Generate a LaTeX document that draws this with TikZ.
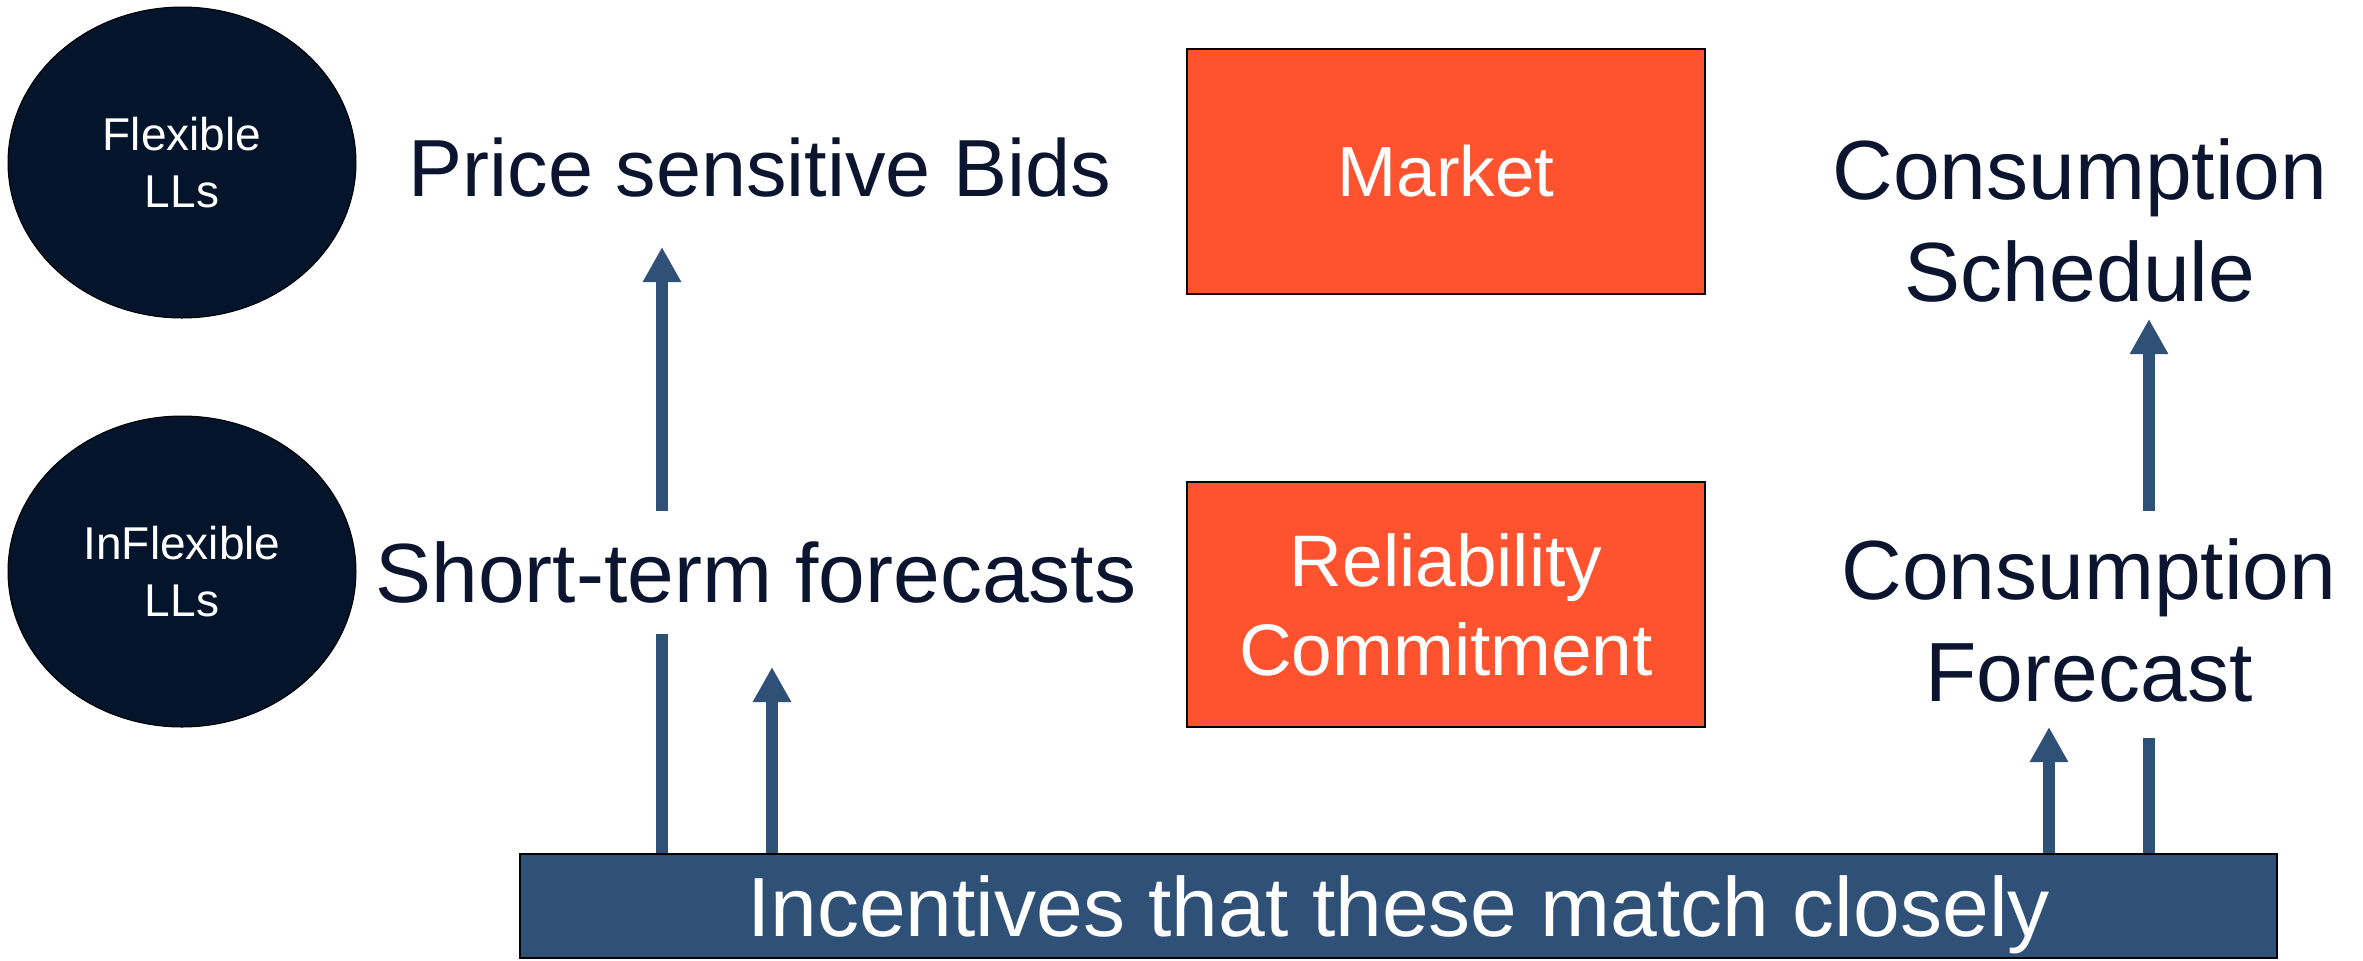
\documentclass[tikz,border=0pt]{standalone}
\usepackage{fontspec}
\setmainfont{Liberation Sans}
\usetikzlibrary{arrows.meta,shapes.geometric}
\definecolor{navy}{HTML}{03142B}
\definecolor{orng}{HTML}{FF522E}
\definecolor{steel}{HTML}{2F5077}
\definecolor{ink}{HTML}{0B1530}
\begin{document}
\begin{tikzpicture}[x=0.5pt,y=-0.5pt,
  lls/.style={ellipse, draw=black, line width=0.5pt, fill=navy,
    minimum width=174pt, minimum height=155.5pt, inner sep=0pt,
    text=white, align=center, font=\fontsize{23}{28.5}\selectfont},
  lbl/.style={text=ink, align=center, inner sep=0pt},
  obox/.style={draw=black, line width=1.2pt, fill=orng,
    minimum width=259pt, minimum height=122.5pt, inner sep=0pt,
    text=white, align=center, font=\fontsize{36.5}{44.5}\selectfont},
  barbox/.style={draw=black, line width=0.8pt, fill=steel,
    minimum width=878.5pt, minimum height=52pt, inner sep=0pt,
    text=white, text depth=0pt, font=\fontsize{42}{50}\selectfont},
  arr/.style={draw=steel, line width=6pt, -{Triangle[width=18pt,length=17.5pt]}},
  ln/.style={draw=steel, line width=6pt}]
\useasboundingbox (0,0) rectangle (2363,960);
\fill[white] (0,0) rectangle (2363,960);

% ellipses
\node[lls] (flex) at (182,162.5) {Flexible\\LLs};
\node[lls] (inflex) at (182,571.5) {InFlexible\\LLs};

% labels
\node[lbl, anchor=base, font=\fontsize{40.5}{48}\selectfont] (bids) at (760,196) {Price sensitive Bids};
\node[lbl, anchor=base, font=\fontsize{42}{50}\selectfont] (short) at (756,602) {Short-term forecasts};
\node[lbl, font=\fontsize{42}{51}\selectfont] (sched) at (2080,220.5) {Consumption\\Schedule};
\node[lbl, font=\fontsize{42}{51}\selectfont] (cfore) at (2089,620.5) {Consumption\\Forecast};

% orange boxes
\node[obox, font=\fontsize{35.5}{43}\selectfont] (market) at (1446,171.5) {Market};
\node[obox] (relia) at (1446,604.5) {Reliability\\Commitment};

% bottom bar
\node[barbox] (bar) at (1398.5,906) {Incentives that these match closely};

% connector end points
\coordinate (a1b) at (662,511);
\coordinate (a1t) at (662,247);
\coordinate (l1t) at (662,634);
\coordinate (a2t) at (772,667);
\coordinate (a3t) at (2049,727);
\coordinate (l4t) at (2149,738);
\coordinate (a4b) at (2149,511);
\coordinate (a4t) at (2149,319);

% connectors
\draw[arr] (a1b) -- (a1t);
\draw[ln] (l1t |- bar.north) -- (l1t);
\draw[arr] (a2t |- bar.north) -- (a2t);
\draw[arr] (a3t |- bar.north) -- (a3t);
\draw[ln] (l4t |- bar.north) -- (l4t);
\draw[arr] (a4b) -- (a4t);
\end{tikzpicture}
\end{document}
